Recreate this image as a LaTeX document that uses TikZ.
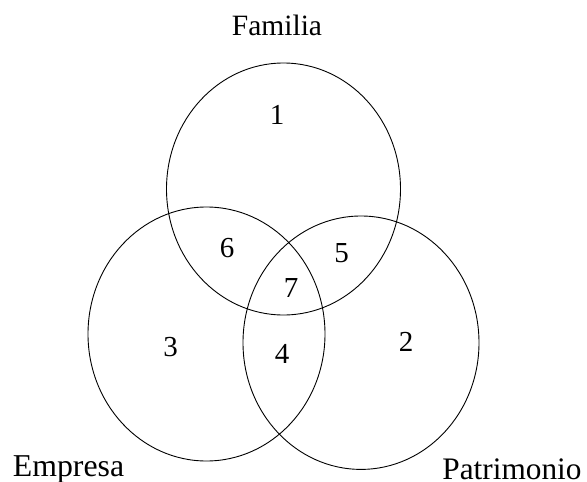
\documentclass[tikz,border=0pt]{standalone}
\usepackage{fontspec}
\setmainfont{Liberation Serif}
\begin{document}
\begin{tikzpicture}[x=1pt,y=-1pt,
  set/.style={draw=black,line width=0.9pt},
  lbl/.style={anchor=base,inner sep=0pt,font=\fontsize{30}{36}\selectfont},
  num/.style={anchor=base,inner sep=0pt,font=\fontsize{29}{34}\selectfont}]
\useasboundingbox (0,0) rectangle (587,482);
\draw[set] (283.5,189) ellipse [x radius=117, y radius=126];
\draw[set] (206.5,334) ellipse [x radius=118.5, y radius=127];
\draw[set] (361,342.7) ellipse [x radius=118, y radius=126.7];
\node[lbl,font=\fontsize{29.5}{35}\selectfont] (familia) at (277,35) {Familia};
\node[lbl,font=\fontsize{31.8}{38}\selectfont] (empresa) at (68.5,476) {Empresa};
\node[lbl,font=\fontsize{31.3}{38}\selectfont] (patrimonio) at (512,479.3) {Patrimonio};
\node[num] (n1) at (277,124) {1};
\node[num] (n2) at (406,351.7) {2};
\node[num] (n3) at (170.5,356.7) {3};
\node[num] (n4) at (282,363) {4};
\node[num] (n5) at (341.5,262) {5};
\node[num] (n6) at (227,257) {6};
\node[num] (n7) at (291,297) {7};
\end{tikzpicture}
\end{document}
